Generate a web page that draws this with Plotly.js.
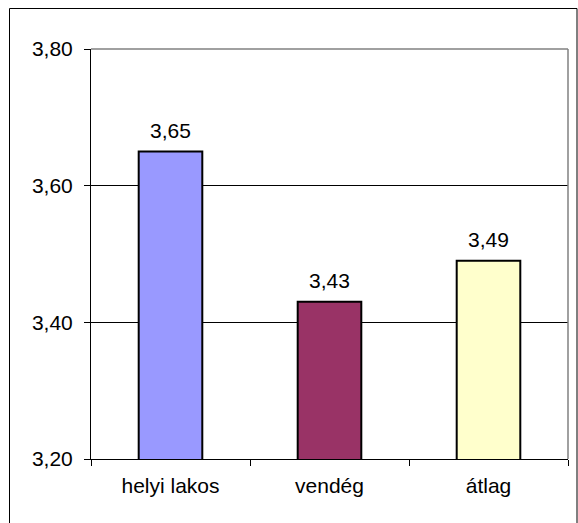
<!DOCTYPE html>
<html>
<head>
<meta charset="utf-8">
<script src="https://cdn.plot.ly/plotly-3.0.1.min.js"></script>
<style>html,body{margin:0;padding:0;background:#fff;}#chart{width:578px;height:523px;}</style>
</head>
<body>
<div id="chart"></div>
<script>
var categories = ['helyi lakos', 'vendég', 'átlag'];
var values = [3.65, 3.43, 3.49];
var barColors = ['#9999FF', '#993366', '#FFFFCC'];
var yTicks = [3.2, 3.4, 3.6, 3.8];

var fontFam = 'Liberation Sans, Arial, sans-serif';
var fs = 21;

var trace = {
  type: 'bar',
  x: categories,
  y: values,
  width: 0.4,
  marker: {color: barColors, line: {color: '#000', width: 2}},
  hoverinfo: 'skip',
  cliponaxis: true
};

var annotations = categories.map(function(c, i){
  return {
    x: c, y: values[i], xref: 'x', yref: 'y',
    text: values[i].toFixed(2).replace('.', ','),
    showarrow: false, yanchor: 'middle', yshift: 21,
    font: {family: fontFam, size: fs, color: '#000'}
  };
});

var L = 91, R = 568, T = 49, B = 459, W = 578, H = 523;
function px(x){ return (x - L) / (R - L); }
function py(y){ return (B - y) / (B - T); }

var layout = {
  width: W, height: H,
  margin: {l: L, r: W - R, t: T, b: H - B, pad: 0},
  paper_bgcolor: '#ffffff',
  plot_bgcolor: '#ffffff',
  separators: ',.',
  showlegend: false,
  font: {family: fontFam, size: fs, color: '#000'},
  xaxis: {
    type: 'category',
    tickson: 'boundaries',
    ticks: 'outside', ticklen: 6, tickcolor: '#000', tickwidth: 1,
    showline: true, linecolor: '#000', linewidth: 1,
    showgrid: false,
    tickfont: {family: fontFam, size: fs, color: '#000'},
    ticklabelstandoff: 8,
    fixedrange: true
  },
  yaxis: {
    range: [3.2, 3.8],
    tickvals: yTicks,
    ticktext: yTicks.map(function(v){ return v.toFixed(2).replace('.', ','); }),
    ticks: 'outside', ticklen: 6, tickcolor: '#000', tickwidth: 1,
    showline: true, linecolor: '#000', linewidth: 1,
    showgrid: true, gridcolor: '#000', gridwidth: 1,
    zeroline: false,
    tickfont: {family: fontFam, size: fs, color: '#000'},
    ticklabelstandoff: 7,
    fixedrange: true
  },
  annotations: annotations,
  shapes: [
    {type: 'line', xref: 'paper', yref: 'paper', x0: 0, x1: 1, y0: 1, y1: 1, line: {color: '#808080', width: 1.5}},
    {type: 'line', xref: 'paper', yref: 'paper', x0: 1, x1: 1, y0: 0, y1: 1, line: {color: '#808080', width: 1.5}},
    {type: 'path', xref: 'paper', yref: 'paper',
     path: 'M ' + px(9.5) + ',' + py(540) + ' L ' + px(9.5) + ',' + py(8.5) + ' L ' + px(577) + ',' + py(8.5) + ' L ' + px(577) + ',' + py(540),
     line: {color: '#000', width: 1}}
  ]
};

Plotly.newPlot('chart', [trace], layout, {displayModeBar: false, staticPlot: true});
</script>
</body>
</html>
